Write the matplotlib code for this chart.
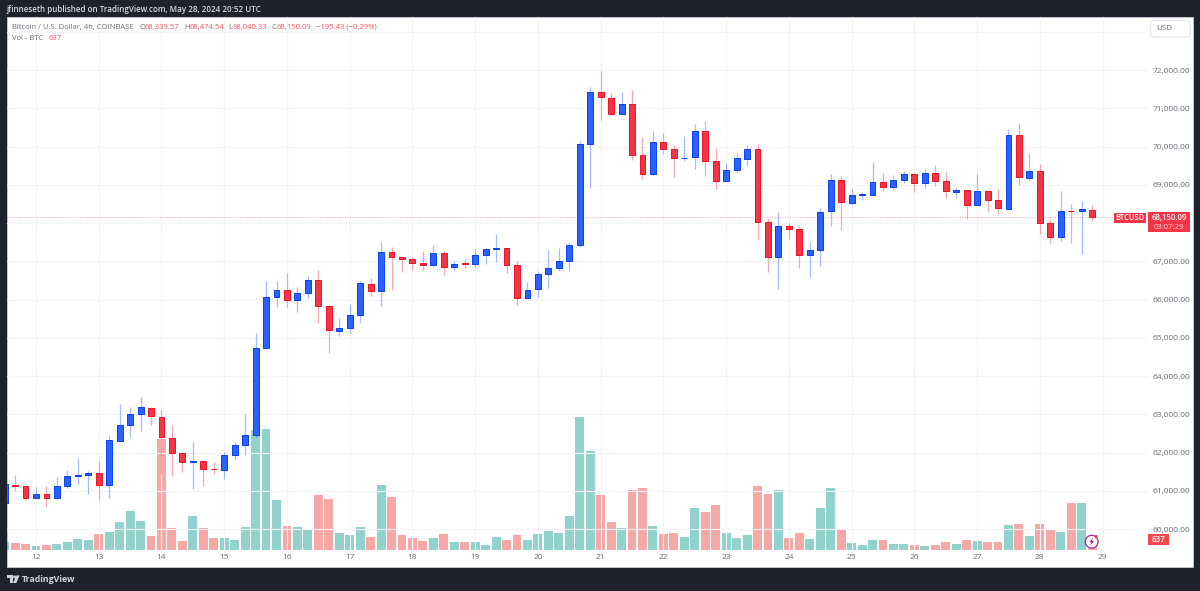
import numpy as np
import pandas as pd
import matplotlib
matplotlib.use("Agg")
import matplotlib.pyplot as plt
import matplotlib.dates as mdates
from matplotlib.patches import Rectangle, Circle, Polygon, FancyBboxPatch
from matplotlib.transforms import Affine2D

# BTC/USD 4h candles (Coinbase), 11 May 12:00 onwards
opens = [60672,61159,61125,60818,60916,60818,61133,61385,61404,61456,
         61150,62308,62727,63014,63163,62920,62387,61979,61765,61770,
         61570,61543,61935,62188,62458,64739,66073,66249,65987,66178,
         66517,65829,65184,65255,65595,66413,66230,67234,67103,67051,
         66961,66910,67215,66850,66940,66927,67171,67333,67339,66909,
         66039,66267,66675,66831,66998,67424,70058,71425,71268,70849,
         71103,69778,69273,70125,69926,69697,69717,70413,69628,69106,
         69392,69681,69934,68019,67118,67913,67851,67155,67302,68321,
         69132,68531,68743,68740,69072,68935,69132,69282,69054,69299,
         69090,68818,68855,68470,68829,68593,68373,70301,69184,69358,
         68000,67633,68323,68306,68339.57]
highs = [61185,61412,61143,61090,61125,61352,61543,61848,61525,61786,
         62458,63268,63197,63459,63197,63111,62718,61995,62282,61804,
         61760,62013,62274,62999,65133,66484,66484,66701,66319,66614,
         66771,65847,65508,65882,66492,66570,67495,67365,67103,67103,
         67260,67416,67276,67014,67067,67312,67347,67704,67339,67018,
         66458,66753,67294,67347,67511,70143,71548,71981,71391,71433,
         71478,70248,70397,70352,70047,70275,70581,70667,69961,69577,
         69838,70039,70066,68123,68281,67992,67887,67511,68385,69274,
         69229,68882,68819,69603,69299,69255,69360,69299,69411,69516,
         69351,68949,68855,69281,68863,68881,70458,70606,69822,69534,
         68097,68837,68505,68567,68474.54]
lows = [60640,61001,60777,60802,60583,60792,61072,61176,60916,60758,
        60802,62308,62413,62562,62711,61445,61385,61490,61038,61125,
        61438,61307,61804,61943,62413,64739,65796,65796,65681,66032,
        65394,64594,65046,65133,65394,66091,65830,66249,66718,66771,
        66771,66876,66633,66737,66823,66858,66927,66980,66701,65864,
        66021,66065,66300,66753,66753,67380,68923,70701,70815,70849,
        69646,69143,69255,69812,69211,69628,69418,69228,68896,69106,
        69298,69508,67556,66718,66266,67589,66823,66597,66884,67921,
        67816,68480,68602,68740,68845,68864,69045,68819,68907,68968,
        68653,68662,68111,68470,68295,68226,68358,69001,69106,67720,
        67458,67521,67470,67197,68040.33]
closes = [61168,61125,60818,60924,60818,61125,61386,61400,61456,61150,
          62327,62718,63006,63181,62946,62397,61995,61760,61775,61561,
          61560,61935,62188,62458,64739,66057,66249,65987,66170,66517,
          65837,65194,65255,65595,66423,66230,67234,67103,67051,66961,
          66910,67215,66850,66927,66930,67163,67320,67343,66909,66039,
          66256,66667,66823,66998,67424,70058,71425,71294,70857,71103,
          69786,69281,70125,69942,69699,69712,70413,69628,69106,69385,
          69691,69934,68033,67118,67929,67851,67155,67302,68296,69132,
          68542,68724,68753,69080,68935,69124,69282,69054,69299,69106,
          68836,68855,68478,68829,68609,68392,70301,69211,69358,68008,
          67633,68313,68308,68358,68150.09]
volumes = [500,420,355,250,310,375,455,670,625,1000,
           1080,1730,2420,1770,830,6920,1330,545,2105,1330,
           705,705,625,1395,7455,7520,3125,1480,1420,1270,
           3395,3145,1020,895,1395,810,4045,3270,920,690,
           545,730,980,480,480,440,270,810,565,920,
           565,980,1170,1020,2065,8280,6155,3420,1705,1330,
           3690,3875,1500,940,1060,810,2605,2375,2795,1020,
           690,920,4000,3480,3750,730,1060,645,2605,3875,
           1190,395,270,565,605,355,355,295,250,295,
           455,330,580,545,455,455,1520,1605,830,1625,
           1310,1125,2895,2895,637]
price_ticks = [60000,61000,62000,63000,64000,65000,66000,67000,68000,69000,70000,71000,72000,73000]
# 73,000 sits under the currency button, 68,000 under the last-price tag
hidden_ticks = [68000, 73000]
day_labels = [12,13,14,15,16,17,18,19,20,21,22,23,24,25,26,27,28,29]

FONT = "Open Sans"
plt.rcParams["font.family"] = FONT

W, H = 1200, 591
BG = "#1E222D"
GRID = "#F3F4F8"
GREY = "#6A6D78"
BLUE, BLUE_EDGE = "#2962FF", "#0A40F0"
RED, RED_EDGE = "#F23645", "#EE1028"
TEAL_VOL, RED_VOL = "#26A69A", "#EF5350"
HEAD = 5.5
last_price = closes[-1]

fig = plt.figure(figsize=(W / 100, H / 100), dpi=100, facecolor=BG)
# overlay transform in image pixels, origin top-left
px = Affine2D().scale(1 / W, -1 / H).translate(0, 1) + fig.transFigure


def label(x, y, s, color=GREY, size=HEAD, ha="left", va="center", **kw):
    fig.text(x, y, s, transform=px, color=color, fontsize=size, ha=ha, va=va, zorder=20, **kw)


def add(patch):
    patch.set_transform(px)
    fig.add_artist(patch)


add(Rectangle((6.7, 17), 1186.6, 550, facecolor="white", edgecolor="#C9CBD3", lw=0.6, zorder=0))

# plot area: x 7..1148, y 17..552
ax = fig.add_axes([7 / W, 1 - 552 / H, (1148 - 7) / W, (552 - 17) / H], facecolor="none", zorder=2)
vol_ax = fig.add_axes(ax.get_position(), facecolor="none", zorder=1, sharex=ax)

times = mdates.date2num(pd.date_range("2024-05-11 12:00", periods=len(closes), freq="4h"))
o, h, l, c = map(np.asarray, (opens, highs, lows, closes))
up = c >= o
day0 = mdates.date2num(pd.Timestamp("2024-05-12"))
per_day = 62.74
ax.set_xlim(day0 - 29 / per_day, day0 + 1112 / per_day)
ax.set_ylim(59399, 73386)

# volume sits on its own scale below the candles
vol_ax.set_ylim(-156, 33281)
vol_ax.bar(times, volumes, width=8.9 / per_day,
           color=[TEAL_VOL if u else RED_VOL for u in up], alpha=0.5, linewidth=0, zorder=2)
vol_ax.axis("off")

ax.set_yticks(price_ticks)
ax.set_yticklabels(["" if t in hidden_ticks else f"{t:,.2f}" for t in price_ticks])
ax.yaxis.tick_right()
ax.set_xticks([day0 + (d - 12) for d in day_labels])
ax.set_xticklabels([str(d) for d in day_labels])
ax.tick_params(axis="both", length=0, labelcolor=GREY, labelsize=6.0)
ax.tick_params(axis="y", pad=3.4)
ax.tick_params(axis="x", pad=1.5)
ax.grid(True, color=GRID, lw=0.8, zorder=0)
ax.set_axisbelow(True)
for s in ax.spines.values():
    s.set_visible(False)

# candles: wick first, body over it
for t, op, hi, lo, cl, u in zip(times, o, h, l, c, up):
    ax.vlines(t, lo, hi, color=BLUE if u else RED, alpha=0.42, lw=0.9, zorder=3)
ax.bar(times, np.maximum(np.abs(c - o), 12), bottom=np.minimum(o, c), width=5.9 / per_day,
       color=[BLUE if u else RED for u in up], edgecolor=[BLUE_EDGE if u else RED_EDGE for u in up],
       linewidth=0.7, zorder=4)

# last price line
ax.axhline(last_price, color="#F23645", lw=0.6, ls=(0, (1, 2)), alpha=0.55, zorder=2)

# header
label(6.7, 10, "jfinneseth published on TradingView.com, May 28, 2024 20:52 UTC",
      color="#D8DAE0", size=5.75, fontweight="semibold")
label(11.7, 27.3, "Bitcoin / U.S. Dollar, 4h, COINBASE")
for x, s in [(139.7, "O"), (184, "H"), (228.7, "L"), (271.7, "C")]:
    label(x, 27.3, s)
for x, s in [(144.6, f"{opens[-1]:,.2f}"), (189.4, f"{highs[-1]:,.2f}"),
             (232.7, f"{lows[-1]:,.2f}"), (277, f"{closes[-1]:,.2f}"),
             (315.7, "\u2212195.43 (\u22120.29%)")]:
    label(x, 27.3, s, color="#F2545F")
label(11.7, 38.3, "Vol - BTC")
label(48.3, 38.3, f"{volumes[-1]}", color="#F2545F")

# price-scale tags
add(FancyBboxPatch((1150.8, 20.5), 39.5, 16.5, boxstyle="round,pad=0,rounding_size=3",
                   facecolor="white", edgecolor="#E0E3EB", lw=0.7, zorder=15))
label(1156, 29, "USD", size=5.8)
add(Rectangle((1114.3, 213), 31.4, 9.8, facecolor="#F23645", edgecolor="none", zorder=15))
label(1130, 218, "BTCUSD", color="white", size=5.5, ha="center", fontweight="semibold")
add(Rectangle((1148.3, 212.3), 41.7, 20, facecolor="#F23645", edgecolor="none", zorder=15))
label(1169.2, 217.2, f"{last_price:,.2f}", color="white", size=5.6, ha="center", fontweight="semibold")
label(1169.2, 227.4, "03:07:29", color="#FFE3E5", size=5.6, ha="center")
add(Rectangle((1148, 534), 20.7, 10.7, facecolor="#F2484F", edgecolor="none", zorder=15))
label(1158.3, 539.3, f"{volumes[-1]}", color="white", size=5.8, ha="center", fontweight="semibold")

# flash badge on the live bar
add(Circle((1091.7, 541.7), 6.4, facecolor="white", edgecolor="#9C27B0", lw=0.9, zorder=15))
add(Polygon([(1093.4, 537.6), (1089.2, 542.3), (1091.4, 542.3), (1090, 545.8), (1094.2, 541.1), (1092, 541.1)],
            closed=True, facecolor="#9C27B0", edgecolor="none", zorder=16))
add(Circle((1096.1, 536.7), 1.6, facecolor="#F23645", edgecolor="none", zorder=17))

# TradingView mark and wordmark
LOGO = "#D1D4DC"
add(Polygon([(6.7, 575.4), (13.2, 575.4), (13.2, 583), (10, 583), (10, 578.4), (6.7, 578.4)],
            closed=True, facecolor=LOGO, edgecolor="none", zorder=15))
add(Circle((14.6, 576.9), 1.5, facecolor=LOGO, edgecolor="none", zorder=15))
add(Polygon([(16.4, 575.4), (19.6, 575.4), (16.3, 583), (13.1, 583)],
            closed=True, facecolor=LOGO, edgecolor="none", zorder=15))
label(21.7, 579, "TradingView", color=LOGO, size=6.3, fontweight="bold")

fig.savefig("out.png", dpi=100, facecolor=BG)
